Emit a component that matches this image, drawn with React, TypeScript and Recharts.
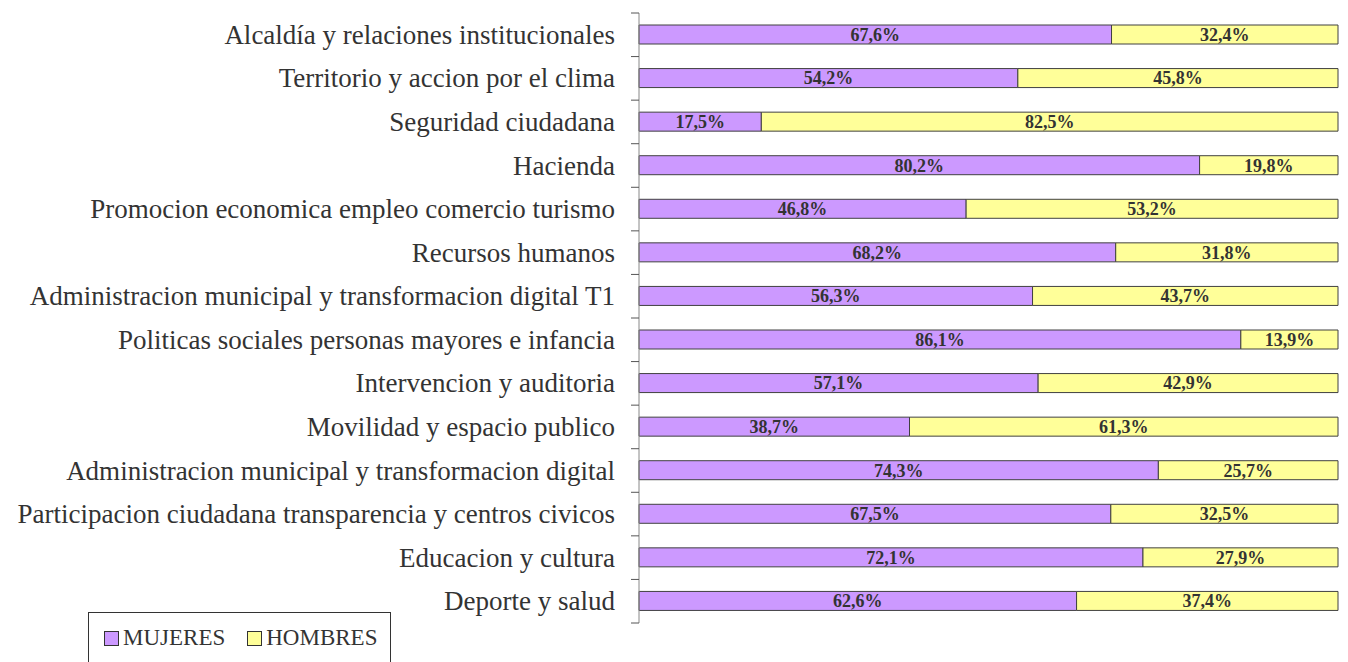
import { BarChart, Bar, XAxis, YAxis, LabelList } from 'recharts';

const categories = [
  'Alcaldía y relaciones institucionales',
  'Territorio y accion por el clima',
  'Seguridad ciudadana',
  'Hacienda',
  'Promocion economica empleo comercio turismo',
  'Recursos humanos',
  'Administracion municipal y transformacion digital T1',
  'Politicas sociales personas mayores e infancia',
  'Intervencion y auditoria',
  'Movilidad y espacio publico',
  'Administracion municipal y transformacion digital',
  'Participacion ciudadana transparencia y centros civicos',
  'Educacion y cultura',
  'Deporte y salud',
];
const mujeres = [67.6, 54.2, 17.5, 80.2, 46.8, 68.2, 56.3, 86.1, 57.1, 38.7, 74.3, 67.5, 72.1, 62.6];
const hombres = [32.4, 45.8, 82.5, 19.8, 53.2, 31.8, 43.7, 13.9, 42.9, 61.3, 25.7, 32.5, 27.9, 37.4];

const data = categories.map((name, i) => ({ name, mujeres: mujeres[i], hombres: hombres[i] }));

const FONT = '"Liberation Serif", "Times New Roman", serif';
const TOP = 13;
const BOTTOM = 623;
const BAND = (BOTTOM - TOP) / categories.length;

const fmt = (v: any) => `${Number(v).toFixed(1).replace('.', ',')}%`;

function CatTick(props: any) {
  const { x, y, payload, index } = props;
  const top = y - BAND / 2;
  return (
    <g>
      <line x1={x} x2={x + 8} y1={top} y2={top} stroke="#555" />
      {index === categories.length - 1 && (
        <line x1={x} x2={x + 8} y1={y + BAND / 2} y2={y + BAND / 2} stroke="#555" />
      )}
      <text x={x - 16} y={y} dy={9} textAnchor="end" fill="#333" fontSize={27} fontFamily={FONT}>
        {payload.value}
      </text>
    </g>
  );
}

function LegendBox() {
  const item = (color: string, label: string, gap: number) => (
    <span style={{ display: 'inline-flex', alignItems: 'center', marginRight: gap }}>
      <span
        style={{
          width: 13,
          height: 13,
          background: color,
          border: '1px solid #333',
          marginRight: 4,
          display: 'inline-block',
        }}
      />
      {label}
    </span>
  );
  return (
    <div
      style={{
        position: 'absolute',
        left: 88,
        top: 612,
        width: 303,
        height: 60,
        boxSizing: 'border-box',
        border: '1px solid #333',
        fontFamily: FONT,
        fontSize: 23,
        color: '#333',
        paddingLeft: 15,
        paddingTop: 12,
        whiteSpace: 'nowrap',
        lineHeight: '26px',
        background: '#fff',
      }}
    >
      {item('#CC99FF', 'MUJERES', 22)}
      {item('#FFFF99', 'HOMBRES', 0)}
    </div>
  );
}

export default function App() {
  return (
    <div style={{ position: 'absolute', left: 0, top: 0, width: 1348, height: 662, overflow: 'hidden', background: '#fff' }}>
      <BarChart
        width={1348}
        height={662}
        data={data}
        layout="vertical"
        margin={{ top: TOP, right: 10, bottom: 662 - BOTTOM, left: 0 }}
        barSize={19}
      >
        <XAxis type="number" domain={[0, 100]} hide />
        <YAxis
          type="category"
          dataKey="name"
          width={639}
          axisLine={{ stroke: '#888' }}
          tickLine={false}
          tick={<CatTick />}
          interval={0}
        />
        <Bar dataKey="mujeres" name="MUJERES" stackId="a" fill="#CC99FF" stroke="#404040" strokeWidth={1} isAnimationActive={false}>
          <LabelList dataKey="mujeres" position="center" formatter={fmt} fill="#333" fontSize={18} fontWeight="bold" fontFamily={FONT} />
        </Bar>
        <Bar dataKey="hombres" name="HOMBRES" stackId="a" fill="#FFFF99" stroke="#404040" strokeWidth={1} isAnimationActive={false}>
          <LabelList dataKey="hombres" position="center" formatter={fmt} fill="#333" fontSize={18} fontWeight="bold" fontFamily={FONT} />
        </Bar>
      </BarChart>
      <LegendBox />
    </div>
  );
}
